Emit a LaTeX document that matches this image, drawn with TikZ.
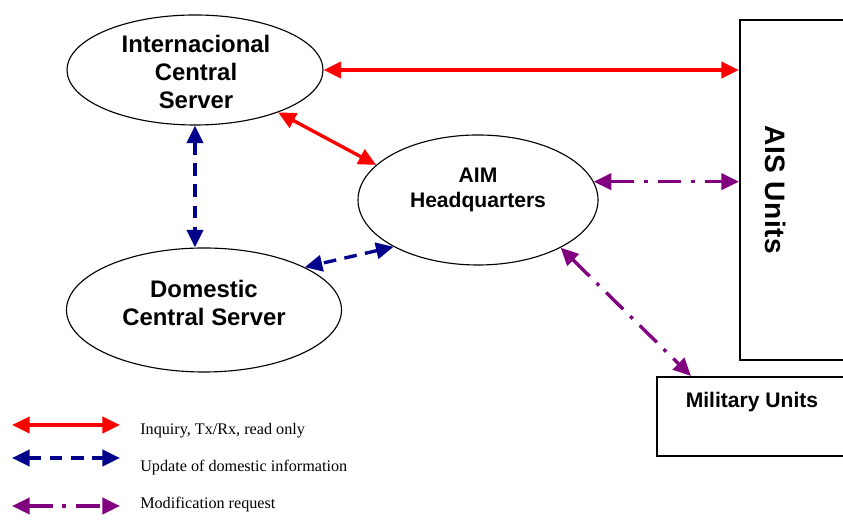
\documentclass[tikz,border=0pt]{standalone}
\usepackage{fontspec}
\setmainfont{Liberation Serif}
\setsansfont{Liberation Sans}
\usetikzlibrary{shapes.geometric,arrows.meta}
\definecolor{inqred}{RGB}{255,0,0}
\definecolor{updblue}{RGB}{0,0,139}
\definecolor{modpurple}{RGB}{128,0,128}

\begin{document}
\begin{tikzpicture}[>={Triangle[length=12.5pt,width=11.5pt]},
  server/.style={draw, ellipse, line width=0.8pt, inner sep=0pt},
  unitbox/.style={draw, rectangle, line width=1.5pt, inner sep=0pt},
  title/.style={font=\sffamily\bfseries\fontsize{17}{20}\selectfont, align=center},
  inquiry/.style={<->, inqred, line width=2.4pt},
  update/.style={<->, updblue, line width=2.4pt, dash pattern=on 9pt off 6pt},
  modify/.style={<->, modpurple, line width=2.4pt, dash pattern=on 17pt off 7pt on 2.5pt off 7pt},
  legendtext/.style={anchor=west, inner sep=0pt, font=\fontsize{11.5}{13}\selectfont}]
  \useasboundingbox (0,0) rectangle (21.075,13);

  % servers
  \node[server, minimum width=6.4cm, minimum height=2.75cm] (icsrv) at (4.875,11.25) {};
  \node[title] (icsrvtext) at (4.9,11.2) {Internacional\\Central\\Server};
  \node[server, minimum width=6cm, minimum height=3.25cm] (aim) at (11.95,8) {};
  \node[title, font=\sffamily\bfseries\fontsize{15}{18}\selectfont] (aimtext) at (11.95,8.25) {AIM\\Headquarters};
  \node[server, minimum width=6.875cm, minimum height=3.1cm] (dcs) at (5.1,5.25) {};
  \node[title] (dcstext) at (5.1,5.43) {Domestic\\Central Server};

  % units
  \node[unitbox, minimum width=3cm, minimum height=8.5cm] (ais) at (20,8.25) {};
  \node[title, font=\sffamily\bfseries\fontsize{20}{22}\selectfont\addfontfeature{LetterSpace=2}, rotate=-90] (aistext) at (19.38,8.25) {AIS Units};
  \node[unitbox, minimum width=5.075cm, minimum height=1.975cm] (mil) at (18.9625,2.5875) {};
  \node[title, font=\sffamily\bfseries\fontsize{15}{18}\selectfont] (miltext) at (18.8,2.94) {Military Units};

  % connections
  \draw[inquiry] (icsrv.east) -- (icsrv.east -| ais.west);
  \draw[inquiry] (icsrv.-27) -- (aim.161);
  \draw[update] (icsrv.south) -- (icsrv.south |- dcs.north);
  \draw[update] (aim.209) -- (dcs.23);
  \draw[modify] (aim.9) -- (aim.9 -| ais.west);
  \draw[modify] (aim.-30) -- ([xshift=0.875cm]mil.north west);

  % legend
  \coordinate (keyinqa) at (0.3,2.375);
  \coordinate (keyinqb) at (3,2.375);
  \coordinate (keyupda) at (0.3,1.55);
  \coordinate (keyupdb) at (3,1.55);
  \coordinate (keymoda) at (0.3,0.35);
  \coordinate (keymodb) at (3,0.35);
  \draw[inquiry] (keyinqa) -- (keyinqb);
  \draw[update] (keyupda) -- (keyupdb);
  \draw[modify] (keymoda) -- (keymodb);
  \node[legendtext] (keyinq) at (3.5,2.24) {Inquiry, Tx/Rx, read only};
  \node[legendtext] (keyupd) at (3.5,1.31) {Update of domestic information};
  \node[legendtext] (keymod) at (3.5,0.39) {Modification request};
\end{tikzpicture}
\end{document}
